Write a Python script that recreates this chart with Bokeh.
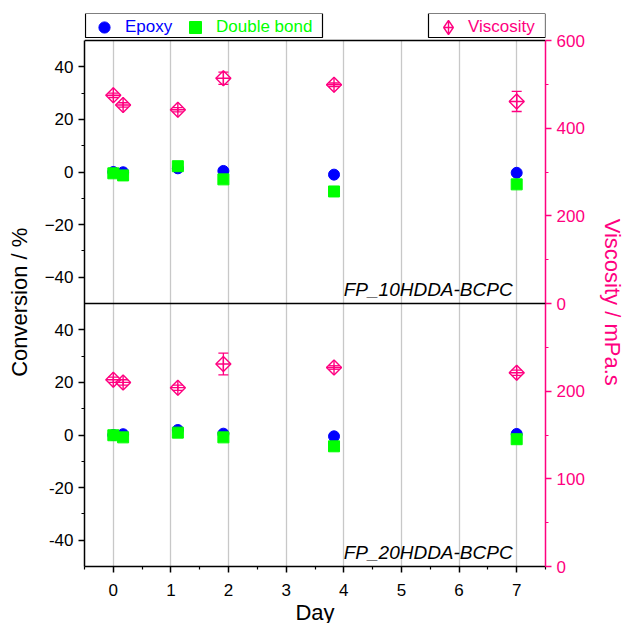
import math
from bokeh.plotting import figure
from bokeh.models import (Range1d, LinearAxis, FixedTicker, Span, Label, Legend, LegendItem,
                          BoxAnnotation, ColumnDataSource, Whisker, TeeHead)
from bokeh.embed import file_html
from bokeh.resources import INLINE

# ---------------- data ----------------
days = [0.0, 0.17, 1.12, 1.91, 3.83, 7.0]
top_epoxy = [0.0, -0.1, 1.4, 0.4, -1.0, -0.3]
top_double = [-0.5, -1.3, 2.2, -2.8, -7.4, -4.7]
top_visc = [475, 453, 442, 514, 499, 461]
top_visc_err = [5, 5, 5, 14, 4, 23]
bot_epoxy = [0.0, 0.3, 1.9, 0.5, -0.5, 0.4]
bot_double = [-0.1, -0.9, 0.9, -0.9, -4.3, -1.6]
bot_visc = [213, 210, 204, 231, 227, 221]
bot_visc_err = [3, 3, 3, 12.5, 2, 3]

x_ticks = [0, 1, 2, 3, 4, 5, 6, 7]
conv_ticks = [-40, -20, 0, 20, 40]
visc_top_ticks = [0, 200, 400, 600]
visc_bot_ticks = [0, 100, 200]
panel_names = ["FP_10HDDA-BCPC", "FP_20HDDA-BCPC"]

BLUE = "#0000FF"
GREEN = "#00FF00"
PINK = "#FF0080"
FONT = "Liberation Sans"
NB = "\u00a0" * 4   # keeps the axis titles centred on the panels, not on the legend strip

DATA_H = 526      # height of the two stacked panels
LEG_H = 27        # strip above the panels holding the legends
ext = LEG_H / DATA_H

p = figure(frame_width=461, frame_height=DATA_H + LEG_H, output_backend="svg",
           toolbar_location=None,
           x_range=Range1d(-0.5, 7.5), y_range=Range1d(-150, 50 + 200 * ext),
           min_border_left=84, min_border_right=86, min_border_top=13, min_border_bottom=57)
p.extra_y_ranges = {"bot": Range1d(-50, 150 + 200 * ext),
                    "vtop": Range1d(-600, 600 + 1200 * ext),
                    "vbot": Range1d(0, 600 + 600 * ext)}
p.outline_line_color = None
p.background_fill_color = "white"
p.border_fill_color = "white"

p.ygrid.visible = False
p.xgrid.ticker = FixedTicker(ticks=x_ticks)
p.xgrid.grid_line_color = "#c8c8c8"
p.xgrid.grid_line_width = 1.3
p.xgrid.cross_bounds = (-150, 50)

xa = p.xaxis[0]
xa.ticker = FixedTicker(ticks=x_ticks, minor_ticks=[v + 0.5 for v in [-1] + x_ticks])
xa.axis_label = "Day"

ya = p.yaxis[0]
left_major = conv_ticks + [t - 100 for t in conv_ticks]
left_minor = [-30, -10, 10, 30] + [t - 100 for t in [-30, -10, 10, 30]]
ya.ticker = FixedTicker(ticks=left_major, minor_ticks=left_minor)
ya.major_label_overrides = {t - 100: str(t) for t in conv_ticks}
ya.axis_label = "Conversion / %" + NB
ya.bounds = (-150, 50)

ra = LinearAxis(y_range_name="vtop")
right_major = visc_top_ticks + [2 * v - 600 for v in visc_bot_ticks]
right_minor = [100, 300, 500] + [2 * v - 600 for v in [50, 150, 250]]
ra.ticker = FixedTicker(ticks=right_major, minor_ticks=right_minor)
ra.major_label_overrides = {2 * v - 600: str(v) for v in visc_bot_ticks}
ra.axis_label = NB + "Viscosity / mPa.s"
ra.bounds = (-600, 600)
p.add_layout(ra, "right")

for ax, col in [(xa, "black"), (ya, "black"), (ra, PINK)]:
    ax.axis_line_color = col
    ax.axis_line_width = 1.5
    ax.major_tick_line_color = col
    ax.minor_tick_line_color = col
    ax.major_tick_line_width = 1.5
    ax.minor_tick_line_width = 1.2
    ax.major_tick_in = 0
    ax.major_tick_out = 6
    ax.minor_tick_in = 0
    ax.minor_tick_out = 3
    ax.major_label_text_font = FONT
    ax.major_label_text_font_size = "17px"
    ax.major_label_text_color = col
    ax.axis_label_text_font = FONT
    ax.axis_label_text_font_size = "22px"
    ax.axis_label_text_font_style = "normal"
    ax.axis_label_text_color = col
xa.major_label_standoff = 11
xa.axis_label_standoff = 1
ya.axis_label_standoff = 10
ra.axis_label_standoff = 12

# top border and middle divider
p.add_layout(Span(location=50, dimension="width", line_color="black", line_width=1.5))
p.add_layout(Span(location=-50, dimension="width", line_color="black", line_width=1.5))

# ---------------- data glyphs ----------------
legend_refs = {}
for conv_range, ep, db, vi, ve in [
    ("default", top_epoxy, top_double, top_visc, top_visc_err),
    ("bot", bot_epoxy, bot_double, bot_visc, bot_visc_err),
]:
    vrange = "vtop" if conv_range == "default" else "vbot"
    src = ColumnDataSource(dict(x=days, ep=ep, db=db, vi=vi,
                                lo=[a - b for a, b in zip(vi, ve)],
                                hi=[a + b for a, b in zip(vi, ve)]))
    p.add_layout(Whisker(base="x", upper="hi", lower="lo", source=src, y_range_name=vrange,
                         line_color=PINK, line_width=1.3,
                         upper_head=TeeHead(size=10, line_color=PINK, line_width=1.3),
                         lower_head=TeeHead(size=10, line_color=PINK, line_width=1.3)))
    r_ep = p.scatter("x", "ep", source=src, y_range_name=conv_range, marker="circle",
                     size=11, fill_color=BLUE, line_color=BLUE)
    r_db = p.scatter("x", "db", source=src, y_range_name=conv_range, marker="square",
                     size=11, fill_color=GREEN, line_color=GREEN)
    p.scatter("x", "vi", source=src, y_range_name=vrange, marker="square",
              angle=math.pi / 4, size=10.6, fill_alpha=0.0, line_color=PINK, line_width=1.4)
    p.scatter("x", "vi", source=src, y_range_name=vrange, marker="cross",
              size=15, line_color=PINK, line_width=1.4)
    if conv_range == "default":
        # legend-only glyph for the viscosity symbol (legend glyphs are drawn unrotated)
        r_vl = p.scatter("x", "vi", source=src, y_range_name=vrange, marker="diamond_cross",
                         fill_alpha=0.0, line_color=PINK, line_width=1.4, visible=False)
        legend_refs = dict(ep=r_ep, db=r_db, vi=r_vl)

for name, rng in zip(panel_names, ["default", "bot"]):
    p.add_layout(Label(x=6.93, y=-44.7, y_range_name=rng, text=name, text_align="right",
                       text_baseline="middle", text_font=FONT, text_font_size="19px",
                       text_font_style="italic", text_color="black"))

# legend boxes (screen units relative to the frame's bottom-left)
for l, r in [(1, 238), (344, 461)]:
    p.add_layout(BoxAnnotation(left=l, right=r, bottom=DATA_H + 3, top=DATA_H + 27,
                               left_units="screen", right_units="screen",
                               bottom_units="screen", top_units="screen",
                               fill_color="white", fill_alpha=1.0,
                               line_color="black", line_width=1.2, line_alpha=1.0))

def mk_legend(label, rend, color, center, text_x, w):
    pad = 2
    leg = Legend(items=[LegendItem(label=label, renderers=[rend])],
                 location=(center - 84 - w / 2 - pad, DATA_H + 15 - (w + 2 * pad) / 2),
                 orientation="horizontal", padding=pad, margin=0, spacing=0,
                 glyph_width=w, glyph_height=w, label_height=w,
                 label_standoff=int(text_x - center - w / 2),
                 label_text_font=FONT, label_text_font_size="17px",
                 label_text_color=color, border_line_color=None,
                 background_fill_alpha=0.0)
    p.add_layout(leg)

mk_legend("Epoxy", legend_refs["ep"], BLUE, 106, 127, 28)
mk_legend("Double bond", legend_refs["db"], GREEN, 197, 218, 30)
mk_legend("Viscosity", legend_refs["vi"], PINK, 450, 470, 36)

open("out.html", "w").write(file_html(p, INLINE))
